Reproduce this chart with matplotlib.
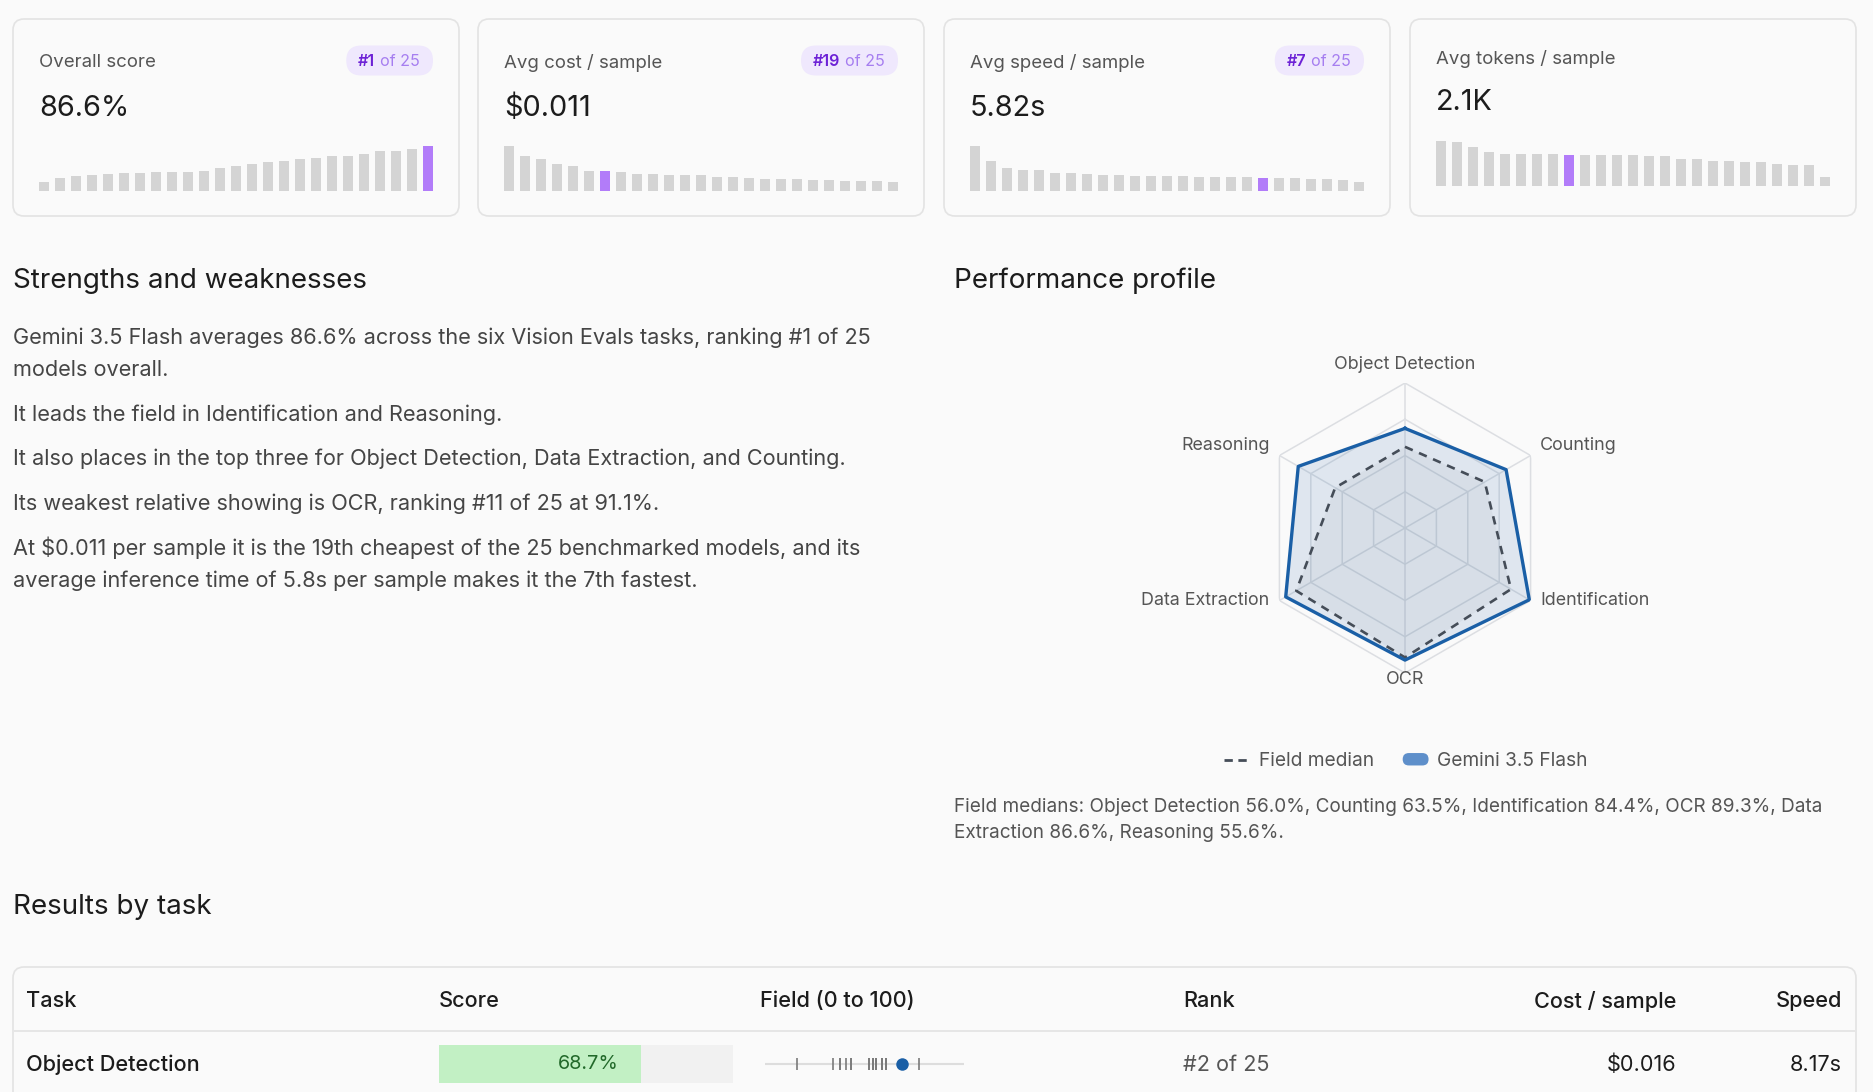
import matplotlib

matplotlib.use("Agg")
import matplotlib.pyplot as plt
import numpy as np
from matplotlib.legend_handler import HandlerPatch
from matplotlib.lines import Line2D
from matplotlib.patches import FancyBboxPatch, Patch

plt.rcParams["font.family"] = ["Inter", "DejaVu Sans"]
plt.rcParams["text.parse_math"] = False

W, H = 1874, 1092

# ---- data ----
model_name = "Gemini 3.5 Flash"
n_models = 25

card_titles = ["Overall score", "Avg cost / sample", "Avg speed / sample", "Avg tokens / sample"]
card_values = ["86.6%", "$0.011", "5.82s", "2.1K"]
card_ranks = [1, 19, 7, None]
highlight_idx = [24, 6, 18, 8]

overall_scores = [16.8, 24.6, 28.4, 30.4, 32.3, 34.3, 34.3, 36.2, 36.2, 36.2, 38.1, 44.0, 47.8,
                  51.7, 55.6, 57.5, 61.4, 63.3, 67.2, 67.2, 71.1, 76.9, 76.9, 80.8, 86.6]
cost_per_sample = [0.0250, 0.0194, 0.0177, 0.0149, 0.0138, 0.0110, 0.0110, 0.0104, 0.0093,
                   0.0093, 0.0088, 0.0088, 0.0088, 0.0076, 0.0076, 0.0071, 0.0065, 0.0065,
                   0.0065, 0.0060, 0.0060, 0.0054, 0.0054, 0.0054, 0.0048]
speed_per_sample = [20.5, 13.6, 10.4, 9.5, 9.5, 8.1, 8.1, 7.7, 7.2, 7.2, 6.7, 6.7, 6.7, 6.7,
                    6.3, 6.3, 6.3, 6.3, 5.82, 5.8, 5.8, 5.4, 5.4, 4.9, 4.0]
tokens_per_sample = [3060, 2990, 2650, 2300, 2170, 2170, 2170, 2170, 2100, 2100, 2100, 2100,
                     2100, 2030, 2030, 1830, 1830, 1690, 1690, 1620, 1620, 1480, 1420, 1420, 590]
card_series = [overall_scores, cost_per_sample, speed_per_sample, tokens_per_sample]

radar_tasks = ["Object Detection", "Counting", "Identification", "OCR", "Data Extraction", "Reasoning"]
model_scores = [68.7, 80.5, 99.0, 91.1, 95.0, 85.0]
field_medians = [56.0, 63.5, 84.4, 89.3, 86.6, 55.6]

paragraphs = [
    "Gemini 3.5 Flash averages 86.6% across the six Vision Evals tasks, ranking #1 of 25\nmodels overall.",
    "It leads the field in Identification and Reasoning.",
    "It also places in the top three for Object Detection, Data Extraction, and Counting.",
    "Its weakest relative showing is OCR, ranking #11 of 25 at 91.1%.",
    "At $0.011 per sample it is the 19th cheapest of the 25 benchmarked models, and its\n"
    "average inference time of 5.8s per sample makes it the 7th fastest.",
]

table_headers = ["Task", "Score", "Field (0 to 100)", "Rank", "Cost / sample", "Speed"]
row_task = "Object Detection"
row_score = 68.7
row_rank = "#2 of 25"
row_cost = "$0.016"
row_speed = "8.17s"
od_field_scores = [16.0, 34.3, 37.8, 37.8, 40.7, 43.3, 43.3, 52.2, 52.2, 54.5, 54.5, 54.5,
                   56.0, 56.0, 56.0, 58.7, 58.7, 58.7, 60.6, 60.6, 60.6, 60.6, 60.6, 77.2]

# ---- colours ----
BG = "#fafafa"
BORDER = "#e3e3e3"
GREY_BAR = "#d4d4d4"
PURPLE = "#b27cf9"
BLUE = "#1a5fa6"
TXT = "#1c1c1c"
MUTED = "#555555"


def rect(x0, y0, x1, y1):
    return [x0 / W, 1 - y1 / H, (x1 - x0) / W, (y1 - y0) / H]


def pill(legend, orig_handle, xdescent, ydescent, width, height, fontsize):
    return FancyBboxPatch((-xdescent, -ydescent), width, height,
                          boxstyle=f"round,pad=0,rounding_size={height / 2}")


fig = plt.figure(figsize=(W / 100, H / 100), dpi=100, facecolor=BG)
bg = fig.add_axes([0, 0, 1, 1])
bg.set_xlim(0, W)
bg.set_ylim(H, 0)
bg.axis("off")
renderer = fig.canvas.get_renderer()

# ---- metric cards ----
card_x0 = [13, 478, 944, 1410]
card_w = 446
for i, title in enumerate(card_titles):
    x0 = card_x0[i]
    bg.add_patch(FancyBboxPatch((x0, 19), card_w, 197, boxstyle="round,pad=0,rounding_size=11",
                                fc=BG, ec=BORDER, lw=1.2, zorder=1))
    has_badge = card_ranks[i] is not None
    ty, vy, base = (62.5, 108, 191) if has_badge else (59.5, 103, 186)
    bg.text(x0 + 26, ty, title, fontsize=13.4, color=MUTED, va="center")
    bg.text(x0 + 26, vy, card_values[i], fontsize=20.8, color=TXT, va="center")

    if has_badge:
        right = x0 + card_w - 26
        t_of = bg.text(right - 13, 61, f"of {n_models}", fontsize=11.6, color="#a67ef0",
                       va="center", ha="right")
        t_rank = bg.annotate(f"#{card_ranks[i]}", xy=(0, 0.5), xycoords=t_of, xytext=(-3.5, 0),
                             textcoords="offset points", fontsize=11.6, color="#6d22d6",
                             fontweight="semibold", va="center", ha="right")
        left = t_rank.get_window_extent(renderer).x0
        bg.add_patch(FancyBboxPatch((left - 12, 45.5), right - left + 12, 30,
                                    boxstyle="round,pad=0,rounding_size=15",
                                    fc="#efe8fd", ec="none", zorder=2))

    vals = card_series[i]
    sax = fig.add_axes(rect(x0 + 26, base - 45, x0 + card_w - 26, base))
    colors = [PURPLE if k == highlight_idx[i] else GREY_BAR for k in range(len(vals))]
    sax.bar(np.arange(len(vals)), vals, width=0.62, color=colors)
    sax.set_xlim(-0.31, len(vals) - 1 + 0.31)
    sax.set_ylim(0, max(vals))
    sax.axis("off")

# ---- strengths and weaknesses ----
bg.text(13, 280.5, "Strengths and weaknesses", fontsize=20, color=TXT, va="center")
y = 337.5
for para in paragraphs:
    for line in para.split("\n"):
        bg.text(13, y, line, fontsize=15.6, color="#454545", va="center")
        y += 32.3
    y += 12.3

# ---- performance profile (radar) ----
bg.text(954, 280.5, "Performance profile", fontsize=20, color=TXT, va="center")
cx, cy, R = 1405, 528, 145
rax = fig.add_axes(rect(cx - R, cy - R, cx + R, cy + R), projection="polar")
rax.set_theta_zero_location("N")
rax.set_theta_direction(-1)
rax.set_ylim(0, 100)
rax.axis("off")
rax.patch.set_alpha(0)

theta = np.linspace(0, 2 * np.pi, len(radar_tasks), endpoint=False)
th_c = np.append(theta, theta[0])
for lvl in [25, 50, 75, 100]:
    rax.plot(th_c, [lvl] * len(th_c), color="#dcdee2", lw=1.1, zorder=1)
for t in theta:
    rax.plot([t, t], [0, 100], color="#dcdee2", lw=1.1, zorder=1)

med_c = np.append(field_medians, field_medians[0])
mod_c = np.append(model_scores, model_scores[0])
rax.fill(th_c, mod_c, color="#2a67ab", alpha=0.13, lw=0, zorder=2)
rax.fill(th_c, med_c, color="#5a6472", alpha=0.06, lw=0, zorder=2)
rax.plot(th_c, med_c, color="#454d58", lw=1.9, ls=(0, (3.2, 2.6)), zorder=3)
rax.plot(th_c, mod_c, color=BLUE, lw=2.4, zorder=4)

# label offsets (points) from each outer vertex
label_offsets = [(0, 13), (7, 7), (7, 0), (0, -5), (-7, 0), (-7, 7)]
for t, name, off in zip(theta, radar_tasks, label_offsets):
    s = np.sin(t)
    ha = "center" if abs(s) < 1e-6 else ("left" if s > 0 else "right")
    rax.annotate(name, xy=(t, 100), xytext=off, textcoords="offset points",
                 fontsize=12.9, color=MUTED, ha=ha, va="center")

handles = [Line2D([], [], color="#454d58", lw=2, ls=(0, (3, 2))),
           Patch(fc="#5e8fca", ec="none")]
fig.legend(handles, ["Field median", model_name], loc="center",
           bbox_to_anchor=(1406 / W, 1 - 761 / H), ncol=2, frameon=False, fontsize=13.8,
           labelcolor=MUTED, handlelength=1.35, handleheight=0.62, columnspacing=1.5,
           handletextpad=0.45, handler_map={Patch: HandlerPatch(patch_func=pill)})

caption = "Field medians: " + ", ".join(f"{n} {v:.1f}%" for n, v in zip(radar_tasks, field_medians)) + "."
caption = caption.replace(", Data Extraction", ", Data\nExtraction")
for k, line in enumerate(caption.split("\n")):
    bg.text(954, 807 + 26 * k, line, fontsize=13.65, color=MUTED, va="center")

# ---- results by task ----
bg.text(13, 907.5, "Results by task", fontsize=20, color=TXT, va="center")
bg.add_patch(FancyBboxPatch((13, 967), 1843, 220, boxstyle="round,pad=0,rounding_size=11",
                            fc=BG, ec=BORDER, lw=1.2))
bg.hlines(1031, 14, 1855, color=BORDER, lw=1.2)

header_x = [26, 439, 760, 1183, 1676, 1842]
header_ha = ["left", "left", "left", "left", "right", "right"]
for hx, ha, name in zip(header_x, header_ha, table_headers):
    bg.text(hx, 1001, name, fontsize=15.6, color=TXT, ha=ha, va="center", fontweight="medium")

bg.text(26, 1065, row_task, fontsize=15.6, color=TXT, va="center", fontweight="medium")
bg.text(1183, 1065, row_rank, fontsize=15.6, color=MUTED, va="center")
bg.text(1676, 1065, row_cost, fontsize=15.6, color=TXT, va="center", ha="right")
bg.text(1842, 1065, row_speed, fontsize=15.6, color=TXT, va="center", ha="right")

scx = fig.add_axes(rect(439, 1045, 733, 1083))
scx.barh(0, 100, height=1, color="#f1f1f1")
scx.barh(0, row_score, height=1, color="#c2f0c4")
scx.set_xlim(0, 100)
scx.set_ylim(-0.5, 0.5)
scx.axis("off")
scx.annotate(f"{row_score:.1f}%", xy=(row_score, 0), xytext=(-16, 0), textcoords="offset points",
             fontsize=14.3, color="#22692a", ha="right", va="center")

fax = fig.add_axes(rect(765, 1050, 964, 1078))
fax.hlines(0, 0, 100, color="#dddddd", lw=1.5)
fax.vlines(od_field_scores, -0.45, 0.45, color="#7a7a7a", lw=1.2)
fax.plot([row_score], [0], "o", ms=9, color=BLUE, mec="none")
fax.set_xlim(0, 100)
fax.set_ylim(-1, 1)
fax.axis("off")

fig.savefig("out.png", dpi=100, facecolor=BG)
